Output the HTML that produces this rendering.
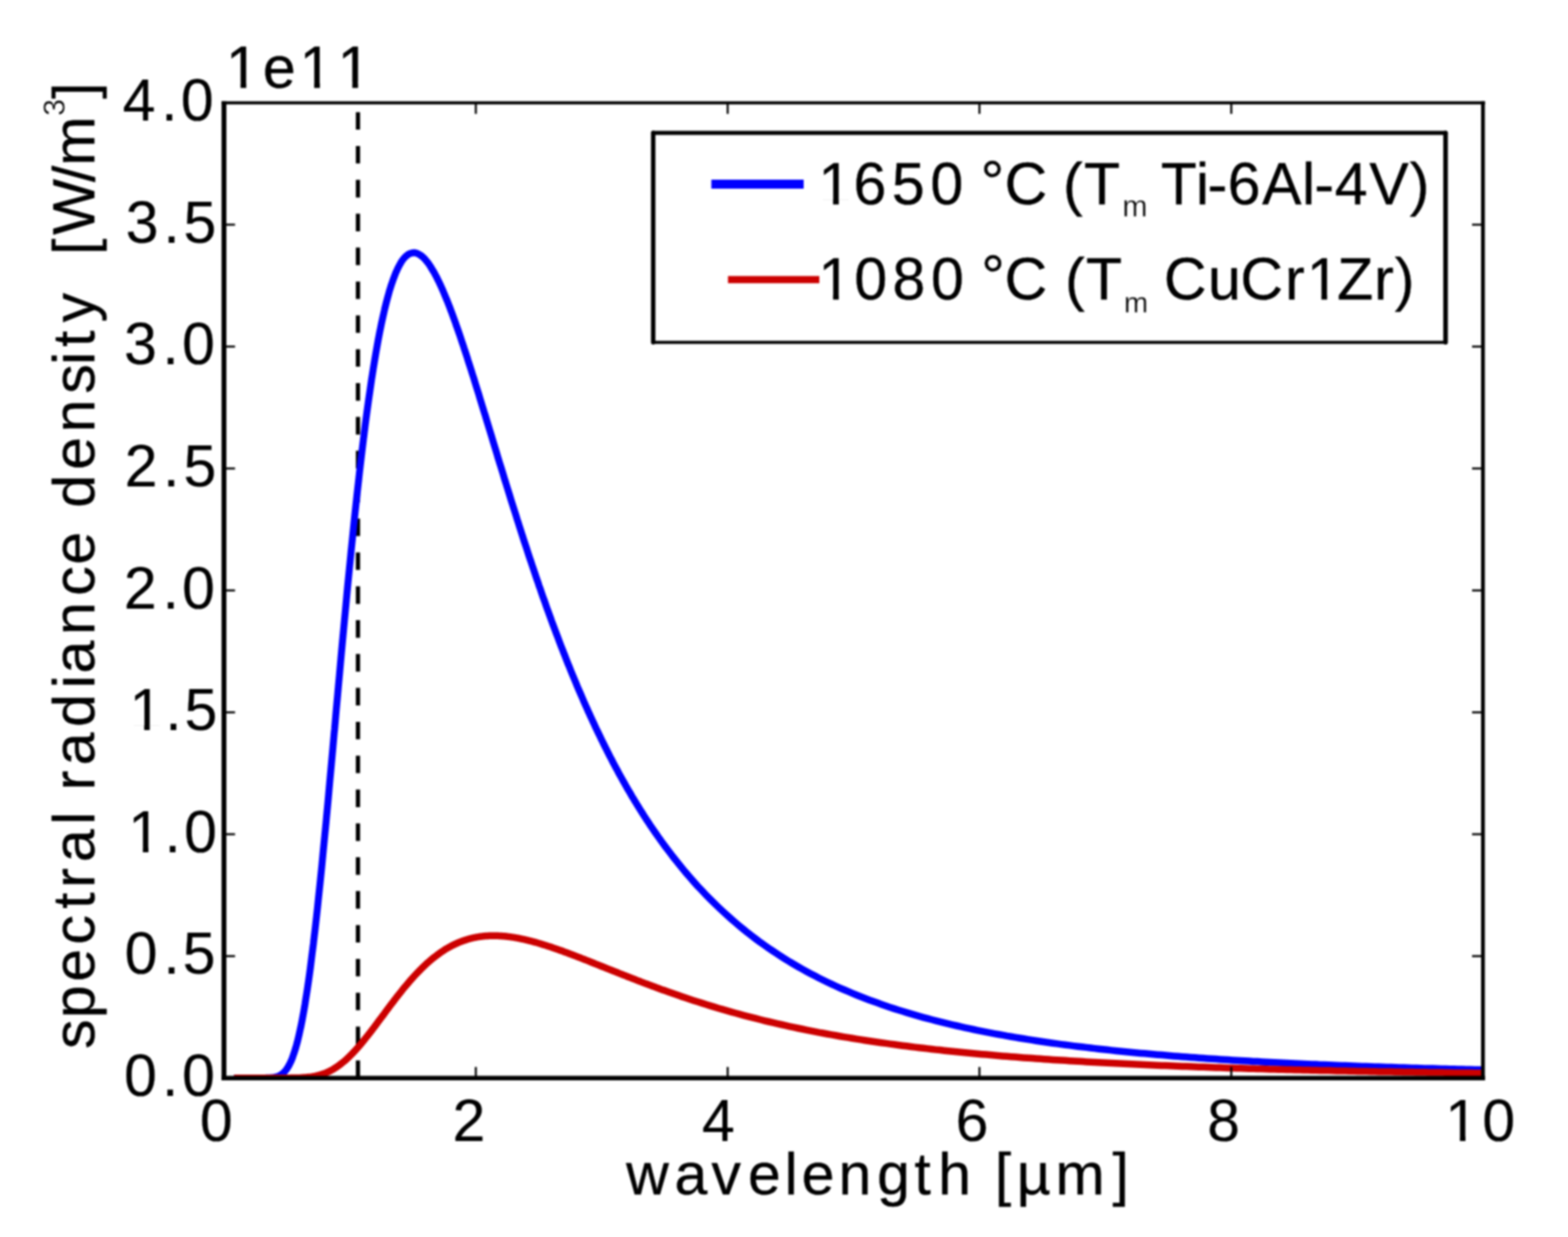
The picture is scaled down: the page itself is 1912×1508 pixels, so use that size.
<!DOCTYPE html>
<html lang="en"><head><meta charset="utf-8"><title>Spectral radiance density</title>
<style>html,body{margin:0;padding:0;background:#fff;}body{width:1912px;height:1508px;overflow:hidden;}svg{display:block;}text{font-family:"Liberation Sans",Arial,Helvetica,sans-serif;fill:#000;white-space:pre;stroke:#000;stroke-width:0.4px;stroke-linejoin:round;}.s{stroke:#fff;stroke-width:0.35px;}.t{stroke-width:0.2px;}</style></head><body>
<svg width="1912" height="1508" viewBox="0 0 1912 1508">
<defs><filter id="soft" x="0" y="0" width="1912" height="1508" filterUnits="userSpaceOnUse" color-interpolation-filters="sRGB"><feGaussianBlur stdDeviation="1.10"/></filter><clipPath id="ax"><rect x="273.1" y="125.3" width="1538.4" height="1189.9"/></clipPath></defs>
<rect width="1912" height="1508" fill="#fff"/>
<g filter="url(#soft)">
<rect x="-20" y="-20" width="1952" height="1548" fill="#fff"/>
<line x1="436.5" y1="1314.2" x2="436.5" y2="125.3" stroke="#000" stroke-width="5.2" stroke-dasharray="21.40 19.89"/>
<g clip-path="url(#ax)" fill="none" stroke-linejoin="round" stroke-linecap="butt">
<polyline points="285.4,1314.2 290.5,1314.2 295.6,1314.2 300.7,1314.2 305.8,1314.2 310.9,1314.2 315.9,1314.2 319.2,1314.2 321.0,1314.2 321.1,1314.2 323.1,1314.2 325.1,1314.1 326.1,1314.1 327.1,1314.1 329.0,1314.0 331.0,1313.8 331.2,1313.8 333.0,1313.6 334.9,1313.3 336.3,1313.0 336.9,1312.8 338.9,1312.2 340.9,1311.3 341.4,1311.0 342.8,1310.2 344.8,1308.7 346.5,1307.1 346.8,1306.8 348.8,1304.4 350.7,1301.6 351.6,1300.1 352.7,1298.1 354.7,1294.1 356.7,1289.3 356.7,1289.1 358.6,1283.7 360.6,1277.4 361.8,1273.2 362.6,1270.2 364.5,1262.2 366.5,1253.2 366.9,1251.5 368.5,1243.4 370.5,1232.6 372.0,1223.7 372.4,1220.9 374.4,1208.3 376.4,1194.8 377.1,1189.8 378.4,1180.4 380.3,1165.1 382.2,1150.2 382.3,1149.1 384.3,1132.2 386.3,1114.6 387.3,1105.3 388.2,1096.4 390.2,1077.5 392.2,1058.0 392.4,1056.1 394.1,1038.0 396.1,1017.6 397.5,1003.5 398.1,996.8 400.1,975.6 402.0,954.2 402.5,948.6 404.0,932.5 406.0,910.7 407.6,892.4 408.0,888.9 409.9,866.9 411.9,845.1 412.7,835.9 413.9,823.2 415.8,801.6 417.8,780.0 417.8,780.0 419.8,758.7 421.8,737.7 422.9,725.6 423.7,717.0 425.7,696.6 427.7,676.6 428.0,673.3 429.7,657.0 431.6,637.8 433.1,623.7 433.6,619.1 435.6,600.8 437.6,583.1 438.2,577.4 439.5,565.9 441.5,549.2 443.3,534.5 443.5,533.1 445.4,517.6 447.4,502.6 448.4,495.4 449.4,488.2 451.4,474.4 453.3,461.2 453.5,460.2 455.3,448.6 457.3,436.5 458.6,428.9 459.3,425.1 461.2,414.2 463.2,403.9 463.7,401.6 465.2,394.2 467.2,385.1 468.8,378.1 469.1,376.6 471.1,368.6 473.1,361.1 473.9,358.3 475.0,354.2 477.0,347.9 479.0,342.1 479.0,342.0 481.0,336.7 482.9,331.8 484.1,329.3 484.9,327.5 486.9,323.6 488.9,320.2 489.1,319.7 490.8,317.2 492.8,314.7 494.2,313.2 494.8,312.6 496.8,310.9 498.7,309.7 499.3,309.4 500.7,308.8 502.7,308.3 504.4,308.1 504.6,308.1 506.6,308.3 508.6,308.9 509.5,309.3 510.6,309.8 512.5,311.0 514.5,312.5 514.6,312.5 516.5,314.2 518.5,316.3 519.7,317.8 520.4,318.6 522.4,321.2 524.4,324.1 524.8,324.7 526.3,327.2 528.3,330.5 529.9,333.2 530.3,334.0 532.3,337.7 534.2,341.6 535.0,343.2 536.2,345.7 538.2,350.0 540.1,354.3 540.2,354.5 542.1,359.1 544.1,363.9 545.2,366.5 546.1,368.8 548.1,373.8 550.0,379.0 550.3,379.6 552.0,384.3 554.0,389.7 555.4,393.6 555.9,395.2 557.9,400.8 559.9,406.5 560.5,408.2 561.9,412.3 563.8,418.2 565.6,423.3 565.8,424.1 567.8,430.1 569.8,436.2 570.6,439.0 571.7,442.3 573.7,448.5 575.7,454.8 575.7,455.0 577.7,461.0 579.6,467.4 580.8,471.2 581.6,473.7 583.6,480.1 585.5,486.5 585.9,487.8 587.5,492.9 589.5,499.4 591.0,504.4 591.5,505.8 593.4,512.3 595.4,518.8 596.1,521.1 597.4,525.3 599.4,531.8 601.2,537.9 601.3,538.3 603.3,544.8 605.3,551.2 606.3,554.6 607.2,557.7 609.2,564.2 611.2,570.6 611.4,571.3 613.2,577.1 615.1,583.5 616.5,587.9 617.1,589.9 619.1,596.3 621.1,602.6 621.6,604.3 623.0,609.0 625.0,615.3 626.7,620.6 627.0,621.5 629.0,627.8 630.9,634.0 631.8,636.7 632.9,640.2 634.9,646.4 636.8,652.5 636.9,652.6 638.8,658.6 640.8,664.6 642.0,668.2 642.8,670.7 644.7,676.6 646.7,682.6 647.1,683.6 648.7,688.5 650.7,694.4 652.2,698.8 652.6,700.2 654.6,706.0 656.6,711.7 657.2,713.7 658.6,717.4 660.5,723.1 662.3,728.3 662.5,728.7 664.5,734.3 666.4,739.8 667.4,742.6 668.4,745.3 670.4,750.8 672.4,756.2 672.5,756.6 674.3,761.5 676.3,766.8 677.6,770.3 678.3,772.1 680.3,777.3 682.2,782.5 682.7,783.8 684.2,787.7 686.2,792.7 687.8,796.9 688.2,797.8 690.1,802.8 692.1,807.8 692.9,809.8 694.1,812.7 696.0,817.5 698.0,822.3 698.0,822.4 700.0,827.1 702.0,831.9 703.1,834.6 703.9,836.6 705.9,841.2 707.9,845.8 708.2,846.5 709.9,850.4 711.8,854.9 713.3,858.2 713.8,859.4 715.8,863.8 717.7,868.2 718.4,869.6 719.7,872.5 721.7,876.8 723.5,880.7 723.7,881.1 725.6,885.3 727.6,889.5 728.6,891.5 729.6,893.6 731.6,897.7 733.5,901.8 733.7,902.0 735.5,905.8 737.5,909.7 738.8,912.3 739.5,913.7 741.4,917.6 743.4,921.4 743.8,922.3 745.4,925.2 747.3,929.0 748.9,932.0 749.3,932.7 751.3,936.4 753.3,940.1 754.0,941.5 755.2,943.7 757.2,947.3 759.1,950.7 759.2,950.8 761.2,954.3 763.1,957.8 764.2,959.7 765.1,961.3 767.1,964.7 769.1,968.0 769.3,968.5 771.0,971.4 773.0,974.6 774.4,977.0 775.0,977.9 776.9,981.1 778.9,984.3 779.5,985.3 780.9,987.5 782.9,990.6 784.6,993.3 784.8,993.7 786.8,996.8 788.8,999.8 789.7,1001.2 790.8,1002.8 792.7,1005.8 794.7,1008.7 794.8,1008.8 796.7,1011.6 798.7,1014.5 799.9,1016.2 800.6,1017.3 802.6,1020.1 804.6,1022.9 805.0,1023.5 806.5,1025.6 808.5,1028.4 810.1,1030.5 810.5,1031.1 815.2,1037.3 820.3,1044.0 825.4,1050.4 830.4,1056.7 835.5,1062.9 840.6,1068.8 845.7,1074.6 850.8,1080.3 855.9,1085.7 861.0,1091.1 866.1,1096.3 871.2,1101.3 876.3,1106.2 881.4,1111.0 886.5,1115.7 891.6,1120.2 896.7,1124.6 901.8,1128.9 906.9,1133.1 911.9,1137.2 917.0,1141.1 922.1,1145.0 927.2,1148.8 932.3,1152.4 937.4,1156.0 942.5,1159.4 947.6,1162.8 952.7,1166.1 957.8,1169.3 962.9,1172.5 968.0,1175.5 973.1,1178.5 978.2,1181.4 983.3,1184.2 988.4,1186.9 993.5,1189.6 998.5,1192.2 1003.6,1194.7 1008.7,1197.2 1013.8,1199.6 1018.9,1202.0 1024.0,1204.3 1029.1,1206.5 1034.2,1208.7 1039.3,1210.9 1044.4,1213.0 1049.5,1215.0 1054.6,1217.0 1059.7,1218.9 1064.8,1220.8 1069.9,1222.6 1075.0,1224.4 1080.1,1226.2 1085.1,1227.9 1090.2,1229.6 1095.3,1231.2 1100.4,1232.8 1105.5,1234.4 1110.6,1235.9 1115.7,1237.4 1120.8,1238.8 1125.9,1240.3 1131.0,1241.7 1136.1,1243.0 1141.2,1244.3 1146.3,1245.6 1151.4,1246.9 1156.5,1248.1 1161.6,1249.3 1166.7,1250.5 1171.7,1251.7 1176.8,1252.8 1181.9,1253.9 1187.0,1255.0 1192.1,1256.1 1197.2,1257.1 1202.3,1258.1 1207.4,1259.1 1212.5,1260.1 1217.6,1261.0 1222.7,1261.9 1227.8,1262.9 1232.9,1263.7 1238.0,1264.6 1243.1,1265.5 1248.2,1266.3 1253.3,1267.1 1258.3,1267.9 1263.4,1268.7 1268.5,1269.5 1273.6,1270.2 1278.7,1271.0 1283.8,1271.7 1288.9,1272.4 1294.0,1273.1 1299.1,1273.7 1304.2,1274.4 1309.3,1275.1 1314.4,1275.7 1319.5,1276.3 1324.6,1276.9 1329.7,1277.5 1334.8,1278.1 1339.8,1278.7 1344.9,1279.3 1350.0,1279.8 1355.1,1280.4 1360.2,1280.9 1365.3,1281.4 1370.4,1281.9 1375.5,1282.4 1380.6,1282.9 1385.7,1283.4 1390.8,1283.9 1395.9,1284.3 1401.0,1284.8 1406.1,1285.3 1411.2,1285.7 1416.3,1286.1 1421.4,1286.5 1426.4,1287.0 1431.5,1287.4 1436.6,1287.8 1441.7,1288.2 1446.8,1288.5 1451.9,1288.9 1457.0,1289.3 1462.1,1289.7 1467.2,1290.0 1472.3,1290.4 1477.4,1290.7 1482.5,1291.1 1487.6,1291.4 1492.7,1291.7 1497.8,1292.0 1502.9,1292.4 1508.0,1292.7 1513.0,1293.0 1518.1,1293.3 1523.2,1293.6 1528.3,1293.9 1533.4,1294.1 1538.5,1294.4 1543.6,1294.7 1548.7,1295.0 1553.8,1295.2 1558.9,1295.5 1564.0,1295.7 1569.1,1296.0 1574.2,1296.2 1579.3,1296.5 1584.4,1296.7 1589.5,1297.0 1594.6,1297.2 1599.6,1297.4 1604.7,1297.6 1609.8,1297.9 1614.9,1298.1 1620.0,1298.3 1625.1,1298.5 1630.2,1298.7 1635.3,1298.9 1640.4,1299.1 1645.5,1299.3 1650.6,1299.5 1655.7,1299.7 1660.8,1299.9 1665.9,1300.1 1671.0,1300.2 1676.1,1300.4 1681.1,1300.6 1686.2,1300.8 1691.3,1300.9 1696.4,1301.1 1701.5,1301.3 1706.6,1301.4 1711.7,1301.6 1716.8,1301.8 1721.9,1301.9 1727.0,1302.1 1732.1,1302.2 1737.2,1302.4 1742.3,1302.5 1747.4,1302.6 1752.5,1302.8 1757.6,1302.9 1762.7,1303.1 1767.7,1303.2 1772.8,1303.3 1777.9,1303.5 1783.0,1303.6 1788.1,1303.7 1793.2,1303.8 1798.3,1304.0 1803.4,1304.1 1808.5,1304.2" stroke="#0000ff" stroke-width="8.5"/>
<polyline points="285.4,1314.2 290.5,1314.2 295.6,1314.2 300.7,1314.2 305.8,1314.2 310.9,1314.2 315.9,1314.2 319.2,1314.2 321.0,1314.2 321.1,1314.2 323.1,1314.2 325.1,1314.2 326.1,1314.2 327.1,1314.2 329.0,1314.2 331.0,1314.2 331.2,1314.2 333.0,1314.2 334.9,1314.2 336.3,1314.2 336.9,1314.2 338.9,1314.2 340.9,1314.2 341.4,1314.2 342.8,1314.2 344.8,1314.2 346.5,1314.2 346.8,1314.2 348.8,1314.2 350.7,1314.2 351.6,1314.2 352.7,1314.2 354.7,1314.1 356.7,1314.1 356.7,1314.1 358.6,1314.1 360.6,1314.1 361.8,1314.0 362.6,1314.0 364.5,1313.9 366.5,1313.9 366.9,1313.8 368.5,1313.8 370.5,1313.6 372.0,1313.5 372.4,1313.5 374.4,1313.3 376.4,1313.1 377.1,1313.0 378.4,1312.9 380.3,1312.6 382.2,1312.3 382.3,1312.2 384.3,1311.9 386.3,1311.4 387.3,1311.2 388.2,1310.9 390.2,1310.4 392.2,1309.8 392.4,1309.7 394.1,1309.1 396.1,1308.4 397.5,1307.9 398.1,1307.6 400.1,1306.7 402.0,1305.8 402.5,1305.5 404.0,1304.7 406.0,1303.6 407.6,1302.6 408.0,1302.4 409.9,1301.2 411.9,1299.8 412.7,1299.2 413.9,1298.4 415.8,1296.9 417.8,1295.3 417.8,1295.3 419.8,1293.7 421.8,1292.0 422.9,1290.9 423.7,1290.2 425.7,1288.3 427.7,1286.3 428.0,1286.0 429.7,1284.3 431.6,1282.3 433.1,1280.7 433.6,1280.1 435.6,1277.9 437.6,1275.7 438.2,1274.9 439.5,1273.4 441.5,1271.0 443.3,1268.8 443.5,1268.6 445.4,1266.2 447.4,1263.7 448.4,1262.5 449.4,1261.2 451.4,1258.6 453.3,1256.1 453.5,1255.9 455.3,1253.5 457.3,1250.9 458.6,1249.1 459.3,1248.2 461.2,1245.6 463.2,1242.9 463.7,1242.3 465.2,1240.3 467.2,1237.6 468.8,1235.5 469.1,1235.0 471.1,1232.3 473.1,1229.7 473.9,1228.6 475.0,1227.0 477.0,1224.4 479.0,1221.9 479.0,1221.8 481.0,1219.2 482.9,1216.7 484.1,1215.2 484.9,1214.1 486.9,1211.6 488.9,1209.1 489.1,1208.8 490.8,1206.7 492.8,1204.2 494.2,1202.5 494.8,1201.9 496.8,1199.5 498.7,1197.2 499.3,1196.5 500.7,1194.9 502.7,1192.7 504.4,1190.7 504.6,1190.5 506.6,1188.4 508.6,1186.3 509.5,1185.3 510.6,1184.2 512.5,1182.2 514.5,1180.2 514.6,1180.1 516.5,1178.3 518.5,1176.4 519.7,1175.3 520.4,1174.6 522.4,1172.9 524.4,1171.1 524.8,1170.8 526.3,1169.5 528.3,1167.9 529.9,1166.6 530.3,1166.3 532.3,1164.8 534.2,1163.3 535.0,1162.8 536.2,1161.9 538.2,1160.5 540.1,1159.3 540.2,1159.2 542.1,1157.9 544.1,1156.7 545.2,1156.1 546.1,1155.6 548.1,1154.4 550.0,1153.4 550.3,1153.2 552.0,1152.4 554.0,1151.4 555.4,1150.7 555.9,1150.5 557.9,1149.6 559.9,1148.7 560.5,1148.5 561.9,1148.0 563.8,1147.2 565.6,1146.6 565.8,1146.5 567.8,1145.9 569.8,1145.2 570.6,1145.0 571.7,1144.7 573.7,1144.1 575.7,1143.7 575.7,1143.6 577.7,1143.2 579.6,1142.8 580.8,1142.6 581.6,1142.4 583.6,1142.1 585.5,1141.8 585.9,1141.8 587.5,1141.6 589.5,1141.3 591.0,1141.2 591.5,1141.1 593.4,1141.0 595.4,1140.9 596.1,1140.8 597.4,1140.8 599.4,1140.7 601.2,1140.7 601.3,1140.7 603.3,1140.7 605.3,1140.7 606.3,1140.8 607.2,1140.8 609.2,1140.9 611.2,1141.0 611.4,1141.0 613.2,1141.2 615.1,1141.3 616.5,1141.5 617.1,1141.5 619.1,1141.8 621.1,1142.0 621.6,1142.1 623.0,1142.3 625.0,1142.6 626.7,1142.8 627.0,1142.9 629.0,1143.2 630.9,1143.6 631.8,1143.7 632.9,1144.0 634.9,1144.4 636.8,1144.8 636.9,1144.8 638.8,1145.2 640.8,1145.7 642.0,1145.9 642.8,1146.1 644.7,1146.6 646.7,1147.1 647.1,1147.2 648.7,1147.6 650.7,1148.1 652.2,1148.6 652.6,1148.7 654.6,1149.2 656.6,1149.8 657.2,1150.0 658.6,1150.4 660.5,1151.0 662.3,1151.6 662.5,1151.6 664.5,1152.2 666.4,1152.8 667.4,1153.2 668.4,1153.5 670.4,1154.1 672.4,1154.8 672.5,1154.8 674.3,1155.5 676.3,1156.1 677.6,1156.6 678.3,1156.8 680.3,1157.5 682.2,1158.2 682.7,1158.4 684.2,1158.9 686.2,1159.6 687.8,1160.2 688.2,1160.4 690.1,1161.1 692.1,1161.8 692.9,1162.1 694.1,1162.5 696.0,1163.3 698.0,1164.0 698.0,1164.0 700.0,1164.8 702.0,1165.5 703.1,1166.0 703.9,1166.3 705.9,1167.1 707.9,1167.8 708.2,1167.9 709.9,1168.6 711.8,1169.4 713.3,1169.9 713.8,1170.1 715.8,1170.9 717.7,1171.7 718.4,1171.9 719.7,1172.5 721.7,1173.3 723.5,1174.0 723.7,1174.0 725.6,1174.8 727.6,1175.6 728.6,1176.0 729.6,1176.4 731.6,1177.2 733.5,1178.0 733.7,1178.0 735.5,1178.8 737.5,1179.5 738.8,1180.1 739.5,1180.3 741.4,1181.1 743.4,1181.9 743.8,1182.1 745.4,1182.7 747.3,1183.5 748.9,1184.1 749.3,1184.3 751.3,1185.0 753.3,1185.8 754.0,1186.1 755.2,1186.6 757.2,1187.4 759.1,1188.1 759.2,1188.2 761.2,1188.9 763.1,1189.7 764.2,1190.2 765.1,1190.5 767.1,1191.3 769.1,1192.0 769.3,1192.1 771.0,1192.8 773.0,1193.6 774.4,1194.1 775.0,1194.3 776.9,1195.1 778.9,1195.9 779.5,1196.1 780.9,1196.6 782.9,1197.4 784.6,1198.0 784.8,1198.1 786.8,1198.9 788.8,1199.6 789.7,1199.9 790.8,1200.3 792.7,1201.1 794.7,1201.8 794.8,1201.9 796.7,1202.6 798.7,1203.3 799.9,1203.7 800.6,1204.0 802.6,1204.7 804.6,1205.5 805.0,1205.6 806.5,1206.2 808.5,1206.9 810.1,1207.4 810.5,1207.6 815.2,1209.3 820.3,1211.1 825.4,1212.8 830.4,1214.6 835.5,1216.3 840.6,1218.0 845.7,1219.7 850.8,1221.3 855.9,1222.9 861.0,1224.5 866.1,1226.1 871.2,1227.6 876.3,1229.2 881.4,1230.7 886.5,1232.1 891.6,1233.6 896.7,1235.0 901.8,1236.4 906.9,1237.8 911.9,1239.1 917.0,1240.4 922.1,1241.7 927.2,1243.0 932.3,1244.3 937.4,1245.5 942.5,1246.7 947.6,1247.9 952.7,1249.0 957.8,1250.2 962.9,1251.3 968.0,1252.4 973.1,1253.5 978.2,1254.5 983.3,1255.6 988.4,1256.6 993.5,1257.6 998.5,1258.6 1003.6,1259.5 1008.7,1260.5 1013.8,1261.4 1018.9,1262.3 1024.0,1263.2 1029.1,1264.1 1034.2,1264.9 1039.3,1265.8 1044.4,1266.6 1049.5,1267.4 1054.6,1268.2 1059.7,1269.0 1064.8,1269.7 1069.9,1270.5 1075.0,1271.2 1080.1,1271.9 1085.1,1272.6 1090.2,1273.3 1095.3,1274.0 1100.4,1274.7 1105.5,1275.3 1110.6,1276.0 1115.7,1276.6 1120.8,1277.2 1125.9,1277.8 1131.0,1278.4 1136.1,1279.0 1141.2,1279.6 1146.3,1280.1 1151.4,1280.7 1156.5,1281.2 1161.6,1281.7 1166.7,1282.3 1171.7,1282.8 1176.8,1283.3 1181.9,1283.8 1187.0,1284.2 1192.1,1284.7 1197.2,1285.2 1202.3,1285.6 1207.4,1286.1 1212.5,1286.5 1217.6,1286.9 1222.7,1287.4 1227.8,1287.8 1232.9,1288.2 1238.0,1288.6 1243.1,1289.0 1248.2,1289.4 1253.3,1289.7 1258.3,1290.1 1263.4,1290.5 1268.5,1290.8 1273.6,1291.2 1278.7,1291.5 1283.8,1291.9 1288.9,1292.2 1294.0,1292.5 1299.1,1292.8 1304.2,1293.2 1309.3,1293.5 1314.4,1293.8 1319.5,1294.1 1324.6,1294.4 1329.7,1294.7 1334.8,1294.9 1339.8,1295.2 1344.9,1295.5 1350.0,1295.8 1355.1,1296.0 1360.2,1296.3 1365.3,1296.5 1370.4,1296.8 1375.5,1297.0 1380.6,1297.3 1385.7,1297.5 1390.8,1297.8 1395.9,1298.0 1401.0,1298.2 1406.1,1298.4 1411.2,1298.7 1416.3,1298.9 1421.4,1299.1 1426.4,1299.3 1431.5,1299.5 1436.6,1299.7 1441.7,1299.9 1446.8,1300.1 1451.9,1300.3 1457.0,1300.5 1462.1,1300.7 1467.2,1300.8 1472.3,1301.0 1477.4,1301.2 1482.5,1301.4 1487.6,1301.5 1492.7,1301.7 1497.8,1301.9 1502.9,1302.0 1508.0,1302.2 1513.0,1302.3 1518.1,1302.5 1523.2,1302.7 1528.3,1302.8 1533.4,1302.9 1538.5,1303.1 1543.6,1303.2 1548.7,1303.4 1553.8,1303.5 1558.9,1303.7 1564.0,1303.8 1569.1,1303.9 1574.2,1304.0 1579.3,1304.2 1584.4,1304.3 1589.5,1304.4 1594.6,1304.5 1599.6,1304.7 1604.7,1304.8 1609.8,1304.9 1614.9,1305.0 1620.0,1305.1 1625.1,1305.2 1630.2,1305.4 1635.3,1305.5 1640.4,1305.6 1645.5,1305.7 1650.6,1305.8 1655.7,1305.9 1660.8,1306.0 1665.9,1306.1 1671.0,1306.2 1676.1,1306.3 1681.1,1306.4 1686.2,1306.5 1691.3,1306.5 1696.4,1306.6 1701.5,1306.7 1706.6,1306.8 1711.7,1306.9 1716.8,1307.0 1721.9,1307.1 1727.0,1307.2 1732.1,1307.2 1737.2,1307.3 1742.3,1307.4 1747.4,1307.5 1752.5,1307.6 1757.6,1307.6 1762.7,1307.7 1767.7,1307.8 1772.8,1307.9 1777.9,1307.9 1783.0,1308.0 1788.1,1308.1 1793.2,1308.1 1798.3,1308.2 1803.4,1308.3 1808.5,1308.3" stroke="#cc0000" stroke-width="8.5"/>
</g>
<g stroke="#000" stroke-width="2.6" opacity="0.95"><line x1="580.2" y1="1314.2" x2="580.2" y2="1300.7"/><line x1="580.2" y1="125.3" x2="580.2" y2="138.8"/><line x1="887.3" y1="1314.2" x2="887.3" y2="1300.7"/><line x1="887.3" y1="125.3" x2="887.3" y2="138.8"/><line x1="1194.3" y1="1314.2" x2="1194.3" y2="1300.7"/><line x1="1194.3" y1="125.3" x2="1194.3" y2="138.8"/><line x1="1501.4" y1="1314.2" x2="1501.4" y2="1300.7"/><line x1="1501.4" y1="125.3" x2="1501.4" y2="138.8"/><line x1="273.1" y1="1165.6" x2="286.6" y2="1165.6"/><line x1="1808.5" y1="1165.6" x2="1795.0" y2="1165.6"/><line x1="273.1" y1="1017.0" x2="286.6" y2="1017.0"/><line x1="1808.5" y1="1017.0" x2="1795.0" y2="1017.0"/><line x1="273.1" y1="868.4" x2="286.6" y2="868.4"/><line x1="1808.5" y1="868.4" x2="1795.0" y2="868.4"/><line x1="273.1" y1="719.8" x2="286.6" y2="719.8"/><line x1="1808.5" y1="719.8" x2="1795.0" y2="719.8"/><line x1="273.1" y1="571.1" x2="286.6" y2="571.1"/><line x1="1808.5" y1="571.1" x2="1795.0" y2="571.1"/><line x1="273.1" y1="422.5" x2="286.6" y2="422.5"/><line x1="1808.5" y1="422.5" x2="1795.0" y2="422.5"/><line x1="273.1" y1="273.9" x2="286.6" y2="273.9"/><line x1="1808.5" y1="273.9" x2="1795.0" y2="273.9"/></g>
<g stroke="#000" stroke-linecap="butt">
<line x1="273.1" y1="123.5" x2="273.1" y2="1316.9" stroke-width="5.9"/>
<line x1="1808.3" y1="123.5" x2="1808.3" y2="1316.9" stroke-width="4.6"/>
<line x1="270.2" y1="125.4" x2="1810.8" y2="125.4" stroke-width="3.6"/>
<line x1="270.2" y1="1314.2" x2="1810.8" y2="1314.2" stroke-width="5.4"/>
</g>
<text x="243.8" y="1391.0" font-size="72" class="t">0</text>
<text x="551.8" y="1391.0" font-size="72" class="t">2</text>
<text x="856.1" y="1391.0" font-size="72" class="t">4</text>
<text x="1165.3" y="1391.0" font-size="72" class="t">6</text>
<text x="1471.9" y="1391.0" font-size="72" class="t">8</text>
<text x="1762.3 1807.5" y="1391.0" font-size="72" class="t">10</text>
<text x="151.2 197.5 222.0" y="1336.0" font-size="72" class="t">0.0</text>
<text x="151.9 199.2 222.8" y="1187.4" font-size="72" class="t">0.5</text>
<text x="156.3 200.6 224.4" y="1038.8" font-size="72" class="t">1.0</text>
<text x="157.9 201.5 225.1" y="890.2" font-size="72" class="t">1.5</text>
<text x="151.1 198.2 222.1" y="741.5" font-size="72" class="t">2.0</text>
<text x="152.0 198.8 223.7" y="592.9" font-size="72" class="t">2.5</text>
<text x="151.3 198.0 222.1" y="444.3" font-size="72" class="t">3.0</text>
<text x="153.2 199.3 223.8" y="295.7" font-size="72" class="t">3.5</text>
<text x="149.5 196.5 220.4" y="147.1" font-size="72" class="t">4.0</text>
<text x="275.5 320.4 365.3 411.8" y="106.5" font-size="72">1e11</text>
<text x="763.6 822.4 867.5 912.0 956.8 977.6 1022.6 1069.4 1115.0 1144.0 1184.1 1213.0 1239.7 1286.9 1356.5" y="1456.0" font-size="72">wavelength [µm]</text>
<g transform="translate(114.8,1280.0) rotate(-90)">
<text font-size="72" xml:space="preserve"><tspan x="1.2 38.7 83.3 128.5 171.9 197.8 229.1 274.4 290.4 316.4 346.9 393.8 441.0 459.0 506.0 553.7 591.8 631.8 661.1 707.3 753.1 800.1 835.3 857.0 886.9 922.9 942.9 969.1 993.7 1057.9 1078.0" y="0">spectral radiance density  [W/m</tspan><tspan class="s" x="1138.8" y="-36.1" font-size="37">3</tspan><tspan x="1159.6" y="0">]</tspan></text>
</g>
<rect x="796.5" y="162.0" width="966.2" height="255.3" fill="#fff"/>
<g stroke="#000" stroke-linecap="round">
<line x1="796.5" y1="162.0" x2="796.5" y2="417.3" stroke-width="5.4"/>
<line x1="1762.7" y1="162.0" x2="1762.7" y2="417.3" stroke-width="5.6"/>
<line x1="796.5" y1="162.0" x2="1762.7" y2="162.0" stroke-width="5.2"/>
<line x1="796.5" y1="417.3" x2="1762.7" y2="417.3" stroke-width="3.8"/>
</g>
<line x1="867.4" y1="224.4" x2="980" y2="224.4" stroke="#0000ff" stroke-width="11"/>
<line x1="887.7" y1="340.9" x2="999.1" y2="340.9" stroke="#cc0000" stroke-width="8.6"/>
<text font-size="72" xml:space="preserve"><tspan x="998.0 1040.8 1087.6 1134.6 1174.7 1195.8 1224.9 1276.9 1296.3 1321.7" y="249.3" dy="0 0 0 0 0 -3.6 3.6 0 0 0">1650 °C (T</tspan><tspan class="s" x="1368.5" y="263.6" font-size="37">m</tspan><tspan x="1399.3 1415.6 1458.3 1472.6 1497.1 1539.1 1587.7 1602.8 1627.6 1669.8 1719.1" y="249.3"> Ti-6Al-4V)</tspan></text>
<text font-size="72" xml:space="preserve"><tspan x="998.0 1041.7 1088.2 1135.3 1175.3 1196.5 1224.9 1276.9 1298.7 1324.3" y="365.0" dy="0 0 0 0 0 -3.6 3.6 0 0 0">1080 °C (T</tspan><tspan class="s" x="1370.6" y="380.5" font-size="35.5">m</tspan><tspan x="1400.1 1419.3 1473.1 1512.4 1567.0 1593.5 1630.6 1675.5 1700.8" y="365.0"> CuCr1Zr)</tspan></text>
<g fill="#fff"><rect x="1766.2" y="1384.9" width="14.0" height="7.7"/><rect x="1787.0" y="1384.9" width="13.5" height="7.7"/><rect x="160.2" y="1032.7" width="14.0" height="7.7"/><rect x="181.0" y="1032.7" width="13.5" height="7.7"/><rect x="161.8" y="884.1" width="14.0" height="7.7"/><rect x="182.6" y="884.1" width="13.5" height="7.7"/><rect x="279.3" y="100.3" width="14.0" height="7.9"/><rect x="300.3" y="100.3" width="13.5" height="7.9"/><rect x="369.1" y="100.3" width="14.0" height="7.9"/><rect x="390.1" y="100.3" width="13.5" height="7.9"/><rect x="415.6" y="100.3" width="14.0" height="7.9"/><rect x="436.6" y="100.3" width="13.5" height="7.9"/><rect x="1001.8" y="243.1" width="14.0" height="7.9"/><rect x="1022.8" y="243.1" width="13.5" height="7.9"/><rect x="1001.8" y="358.8" width="14.0" height="7.9"/><rect x="1022.8" y="358.8" width="13.5" height="7.9"/><rect x="1597.3" y="358.8" width="14.0" height="7.9"/><rect x="1618.3" y="358.8" width="13.5" height="7.9"/></g>
</g></svg></body></html>
